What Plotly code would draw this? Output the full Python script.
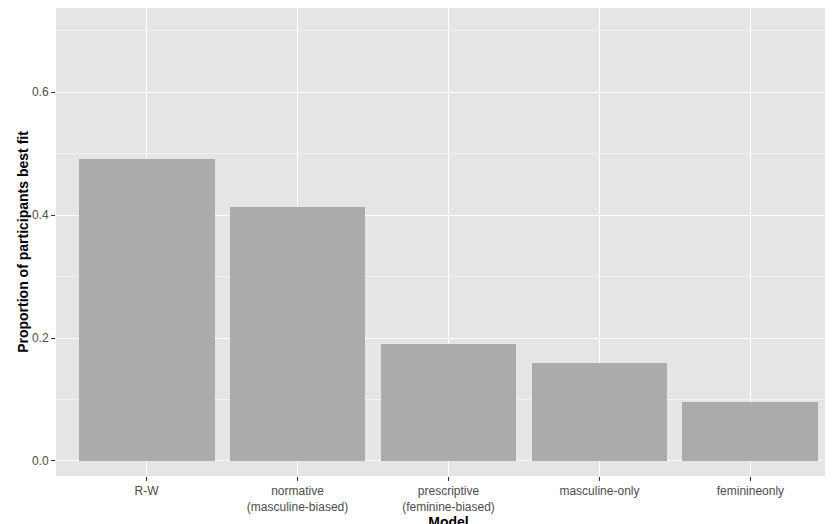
import plotly.graph_objects as go

models = ["R-W", "normative<br>(masculine-biased)", "prescriptive<br>(feminine-biased)", "masculine-only", "feminineonly"]
proportions = [0.492, 0.413, 0.190, 0.159, 0.096]
y_ticks = [0.0, 0.2, 0.4, 0.6]
y_labels = ["0.0", "0.2", "0.4", "0.6"]

fig = go.Figure(go.Bar(x=list(range(len(models))), y=proportions, width=0.9,
                       marker=dict(color="#ababab", line=dict(width=0))))
fig.update_layout(
    width=833, height=524, margin=dict(l=48, r=0, t=0, b=56, pad=0),
    paper_bgcolor="white", plot_bgcolor="#e5e5e5",
    font=dict(family="Liberation Sans, Arial", size=12, color="#4d4d4d"),
    showlegend=False, bargap=0,
)
fig.update_xaxes(range=[-0.6, 4.6], tickvals=list(range(len(models))), ticktext=models,
                 automargin=False,
                 showgrid=True, gridcolor="white", gridwidth=1.2, zeroline=False,
                 ticks="outside", ticklen=4, tickcolor="#333333",
                 title=dict(text="<b>Model</b>", font=dict(size=14, color="black"), standoff=0))
fig.update_yaxes(range=[-0.0245, 0.737], tickvals=y_ticks, ticktext=y_labels,
                 automargin=False,
                 showgrid=True, gridcolor="white", gridwidth=1.2, zeroline=False,
                 minor=dict(tickvals=[0.1, 0.3, 0.5, 0.7], showgrid=True, gridcolor="#f2f2f2", gridwidth=0.6),
                 ticks="outside", ticklen=4, tickcolor="#333333",
                 title=dict(text="<b>Proportion of participants best fit</b>", font=dict(size=14, color="black"), standoff=0))
fig.write_html("out.html")
